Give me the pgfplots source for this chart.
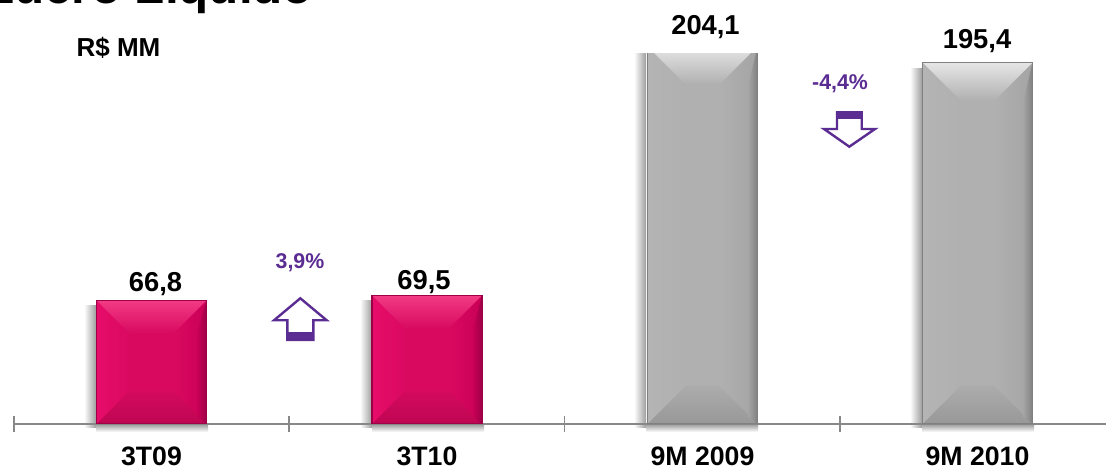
\documentclass[border=0pt]{standalone}
\usepackage{fontspec}
\setmainfont{Liberation Sans}
\usepackage{pgfplots}
\usepackage{pgfplotstable}
\pgfplotsset{compat=1.18}

\definecolor{axisgray}{HTML}{888888}
\definecolor{arrowpurple}{HTML}{5B2C92}
% bevel colours: top edge, top inner, bottom inner, bottom edge, left, right, middle, rim
\definecolor{pinkTE}{HTML}{F23A84}
\definecolor{pinkTI}{HTML}{D80A60}
\definecolor{pinkBI}{HTML}{D40A5E}
\definecolor{pinkBE}{HTML}{BE0552}
\definecolor{pinkL}{HTML}{E60D6A}
\definecolor{pinkR}{HTML}{C80056}
\definecolor{pinkM}{HTML}{DA0960}
\definecolor{pinkE}{HTML}{9E0048}
\definecolor{grayTE}{HTML}{E6E6E6}
\definecolor{grayTI}{HTML}{B0B0B0}
\definecolor{grayBI}{HTML}{ACACAC}
\definecolor{grayBE}{HTML}{989898}
\definecolor{grayL}{HTML}{B4B4B4}
\definecolor{grayR}{HTML}{A4A4A4}
\definecolor{grayM}{HTML}{B0B0B0}
\definecolor{grayE}{HTML}{808080}

% one bar = 110px, 1px = 0.75pt, 1 unit of value = 1.85px
\pgfplotstableread{
pos value
151.5 66.8
427 69.5
702.5 204.1
977.5 195.4
}\bars

\newcommand{\bevelbar}[4]{% xc, value, inset px, colour prefix
  \pgfmathsetmacro{\xa}{#1-55}
  \pgfmathsetmacro{\xb}{#1+55}
  \pgfmathsetmacro{\xc}{#1-55+#3}
  \pgfmathsetmacro{\xd}{#1+55-#3}
  \pgfmathsetmacro{\xe}{#1+55-9}
  \pgfmathsetmacro{\ya}{#2-#3/1.85}
  \pgfmathsetmacro{\yb}{#3/1.85}
  \addplot[draw=none,fill=#4M,forget plot]
    coordinates {(\xa,0) (\xb,0) (\xb,#2) (\xa,#2) (\xa,0)};
  \addplot[draw=none,left color=#4L,right color=#4M,forget plot]
    coordinates {(\xa,0) (\xc,\yb) (\xc,\ya) (\xa,#2) (\xa,0)};
  \addplot[draw=none,left color=#4M,right color=#4R,forget plot]
    coordinates {(\xb,0) (\xd,\yb) (\xd,\ya) (\xb,#2) (\xb,0)};
  \addplot[draw=none,top color=#4TE,bottom color=#4TI,forget plot]
    coordinates {(\xa,#2) (\xb,#2) (\xd,\ya) (\xc,\ya) (\xa,#2)};
  \addplot[draw=none,top color=#4BI,bottom color=#4BE,forget plot]
    coordinates {(\xa,0) (\xb,0) (\xd,\yb) (\xc,\yb) (\xa,0)};
  \addplot[draw=none,left color=#4R,right color=#4E,forget plot]
    coordinates {(\xe,4) (\xb,0) (\xb,#2) (\xe,\ya) (\xe,4)};
  \addplot[#4E,line width=1pt,forget plot]
    coordinates {(\xa,0) (\xb,0) (\xb,#2) (\xa,#2) (\xa,0)};
}

\begin{document}
\begin{tikzpicture}
\useasboundingbox (0,-37.5pt) rectangle (829.5pt,318pt);
\clip (0,-37.5pt) rectangle (829.5pt,318pt);

\begin{scope}[x=0.75pt,y=-0.75pt,yshift=318pt]
  % soft shadows behind the bars
  \foreach \xl/\yt in {96/306,372/301,646/54,922/69}{
    \shade[left color=white,right color=black!38] (\xl-12,\yt) rectangle (\xl,428);
    \shade[top color=black!40,bottom color=white] (\xl,424) rectangle (\xl+112,432);
  }
\end{scope}

\begin{axis}[
  at={(10.5pt,0)},
  anchor=south west,
  scale only axis,
  width=819pt,
  height=277.5pt,
  xmin=14, xmax=1106,
  ymin=0, ymax=200,
  axis y line=none,
  axis x line=bottom,
  axis line style={-,axisgray,line width=1.3pt},
  tick style={axisgray,line width=1.3pt},
  xtick={151.5,427,702.5,977.5},
  xticklabels={3T09,3T10,9M 2009,9M 2010},
  major tick length=0pt,
  xticklabel style={font=\fontsize{20pt}{22pt}\selectfont\bfseries,yshift=-14pt},
  extra x ticks={14,289.3,564.6,839.9},
  extra x tick labels={},
  extra x tick style={tick align=center,major tick length=12pt},
]
\addplot[ybar,bar width=82.5pt,bar shift=0pt,fill=pinkM,draw=none,forget plot]
  table[x=pos,y=value]{\bars};

\bevelbar{151.5}{66.8}{33}{pink}
\bevelbar{427}{69.5}{33}{pink}
\bevelbar{702.5}{204.1}{38}{gray}
\bevelbar{977.5}{195.4}{38}{gray}
\end{axis}

\begin{scope}[x=0.75pt,y=-0.75pt,yshift=318pt,every node/.style={inner sep=0pt,font=\bfseries}]
  \node[anchor=base west,font=\fontsize{37pt}{38pt}\selectfont\bfseries] at (-16,4) {Lucro Líquido};
  \node[font=\fontsize{19.5pt}{22pt}\selectfont\bfseries] at (118.5,48) {R\$ MM};

  \foreach \x/\y/\t in {155.5/284/{66,8},424/282/{69,5},705.5/27/{204,1},977/41/{195,4}}
    \node[font=\fontsize{20.5pt}{22pt}\selectfont\bfseries] at (\x,\y) {\t};

  \node[text=arrowpurple,font=\fontsize{16pt}{18pt}\selectfont\bfseries] at (300,263) {3,9\%};
  \node[text=arrowpurple,font=\fontsize{16pt}{18pt}\selectfont\bfseries] at (840,84) {-4,4\%};

  % up arrow
  \draw[arrowpurple,line width=1.8pt,fill=white,line join=miter]
    (300.3,298.3) -- (326.7,320.3) -- (313.3,320.3) -- (313.3,340) -- (287.3,340) -- (287.3,320.3) -- (274,320.3) -- cycle;
  \fill[arrowpurple] (287.3,332) rectangle (313.3,340);
  % down arrow
  \draw[arrowpurple,line width=1.8pt,fill=white,line join=miter]
    (849.3,146.7) -- (875,129) -- (861.7,129) -- (861.7,112.3) -- (837,112.3) -- (837,129) -- (824,129) -- cycle;
  \fill[arrowpurple] (837,112.3) rectangle (861.7,119);
\end{scope}
\end{tikzpicture}
\end{document}
